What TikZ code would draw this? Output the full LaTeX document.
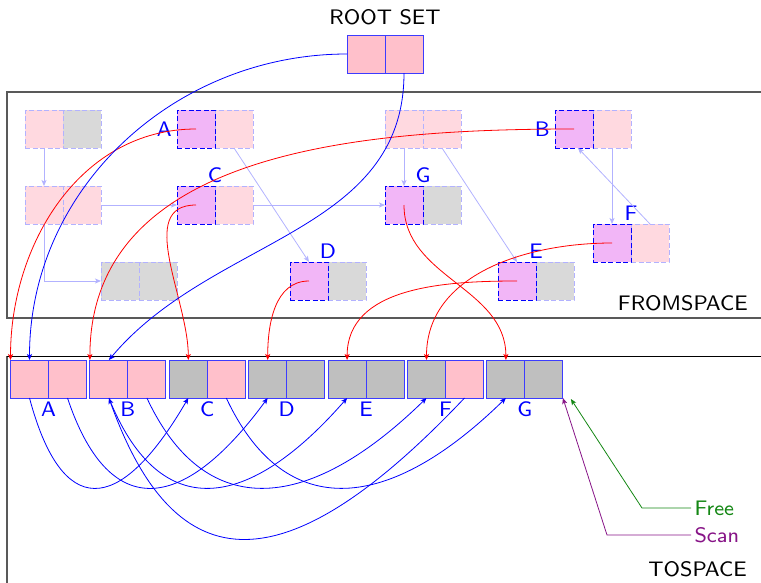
\documentclass[tikz,border=0pt]{standalone}
\usepackage{fontspec}
\newfontfamily\lblfont{lmsans8-regular.otf}
\usetikzlibrary{arrows.meta}
\definecolor{fwdcol}{RGB}{242,182,247}
\definecolor{pinkcol}{RGB}{255,192,203}
\definecolor{freecol}{RGB}{20,135,20}
\definecolor{scancol}{RGB}{135,20,135}
\definecolor{cellline}{RGB}{60,60,255}
\begin{document}
\begin{tikzpicture}[x=1pt,y=-1pt,
  every node/.style={font=\lblfont\fontsize{21}{25}\selectfont},
  cell/.style={minimum size=38pt, inner sep=0pt, outer sep=0pt, line width=0.9pt},
  tpink/.style={cell, draw=cellline, fill=pinkcol},
  tgray/.style={cell, draw=cellline, fill=lightgray},
  fwd/.style={cell, draw=blue, dash pattern=on 5pt off 2.5pt, fill=fwdcol},
  fpink/.style={cell, draw=blue!30, dash pattern=on 5pt off 2.5pt, fill=pinkcol!60},
  fgray/.style={cell, draw=blue!30, dash pattern=on 5pt off 2.5pt, fill=lightgray!60},
  lbl/.style={text=blue},
  tip/.style={-{Stealth[length=6pt,width=5pt,inset=1.5pt]}},
  oldptr/.style={tip, draw=blue!30, line width=0.8pt},
  fptr/.style={tip, draw=red, line width=0.8pt},
  ptr/.style={tip, draw=blue, line width=0.8pt},
  frame/.style={draw=black!65, line width=1.4pt}
]
\useasboundingbox (0,0) rectangle (761,582);

% spaces
\draw[frame] (765,92) -- (7,92) -- (7,318) -- (765,318);
\draw[frame] (7,356) -- (7,585);
\draw[black, line width=0.8pt] (7,356) -- (765,356);
\node[anchor=east, inner sep=0pt] (fromlbl) at (748,303) {FROMSPACE};
\node[anchor=east, inner sep=0pt] (tolbl) at (747,569) {TOSPACE};

% root set
\node[tpink] (r1) at (366,54) {};
\node[tpink] (r2) at (404,54) {};
\node[inner sep=0pt] (rootlbl) at (385,17) {ROOT SET};

% fromspace cells
\node[fpink] (p1a) at (44,129) {};
\node[fgray] (p1b) at (82,129) {};
\node[fpink] (fA2) at (234,129) {};
\node[fwd]   (fA1) at (196,129) {};
\node[fpink] (p3a) at (404,129) {};
\node[fpink] (p3b) at (442,129) {};
\node[fpink] (fB2) at (612,129) {};
\node[fwd]   (fB1) at (574,129) {};
\node[fpink] (p5a) at (44,205) {};
\node[fpink] (p5b) at (82,205) {};
\node[fpink] (fC2) at (234,205) {};
\node[fwd]   (fC1) at (196,205) {};
\node[fgray] (fG2) at (442,205) {};
\node[fwd]   (fG1) at (404,205) {};
\node[fpink] (fF2) at (650,243) {};
\node[fwd]   (fF1) at (612,243) {};
\node[fgray] (p9a) at (120,281) {};
\node[fgray] (p9b) at (158,281) {};
\node[fgray] (fD2) at (347,281) {};
\node[fwd]   (fD1) at (309,281) {};
\node[fgray] (fE2) at (555,281) {};
\node[fwd]   (fE1) at (517,281) {};

\node[lbl, anchor=east, inner sep=5pt] (lfA) at (fA1.west) {A};
\node[lbl, anchor=east, inner sep=5pt] (lfB) at (fB1.west) {B};
\node[lbl, above] (lfC) at (fC1.north east) {C};
\node[lbl, above] (lfD) at (fD1.north east) {D};
\node[lbl, above] (lfE) at (fE1.north east) {E};
\node[lbl, above] (lfF) at (fF1.north east) {F};
\node[lbl, above] (lfG) at (fG1.north east) {G};

% old pointers
\draw[oldptr] (p1a.south) -- (p5a.north);
\draw[oldptr] (p5b.east) -- (fC1.west);
\draw[oldptr] (p5a.south) |- (p9a.west);
\draw[oldptr] (fC2.east) -- (fG1.west);
\draw[oldptr] (fA2.south) -- (fD1.north);
\draw[oldptr] (p3a.south) -- (fG1.north);
\draw[oldptr] (p3b.south) -- (fE1.north);
\draw[oldptr] (fB2.south) -- (fF1.north);
\draw[oldptr] (fF2.north) -- ([xshift=4pt]fB1.south);

% tospace cells
\node[tpink] (tA1) at (29.5,379) {};
\node[tpink] (tA2) at (67.5,379) {};
\node[tpink] (tB1) at (108.9,379) {};
\node[tpink] (tB2) at (146.9,379) {};
\node[tgray] (tC1) at (188.3,379) {};
\node[tpink] (tC2) at (226.3,379) {};
\node[tgray] (tD1) at (267.7,379) {};
\node[tgray] (tD2) at (305.7,379) {};
\node[tgray] (tE1) at (347.1,379) {};
\node[tgray] (tE2) at (385.1,379) {};
\node[tgray] (tF1) at (426.5,379) {};
\node[tpink] (tF2) at (464.5,379) {};
\node[tgray] (tG1) at (505.9,379) {};
\node[tgray] (tG2) at (543.9,379) {};

\node[lbl, below] (ltA) at (tA1.south east) {A};
\node[lbl, below] (ltB) at (tB1.south east) {B};
\node[lbl, below] (ltC) at (tC1.south east) {C};
\node[lbl, below] (ltD) at (tD1.south east) {D};
\node[lbl, below] (ltE) at (tE1.south east) {E};
\node[lbl, below] (ltF) at (tF1.south east) {F};
\node[lbl, below] (ltG) at (tG1.south east) {G};

% free / scan
\node[anchor=west, text=freecol] (free) at (691,508) {Free};
\node[anchor=west, text=scancol] (scan) at (691,535) {Scan};
\coordinate (freept) at ([xshift=8pt,yshift=-1pt]tG2.south east);
\coordinate (freebend) at (642,508);
\coordinate (scanbend) at (607,535);
\draw[tip, draw=freecol, line width=0.8pt] (free.west) -- (freebend) -- (freept);
\draw[tip, draw=scancol, line width=0.8pt] (scan.west) -- (scanbend) -- (tG2.south east);

% forwarding pointers
\draw[fptr] (fA1.center) to[out=180,in=90] (tA1.north west);
\draw[fptr] (fB1.center) to[out=180,in=90] (tB1.north west);
\draw[fptr] (fC1.center) to[out=180,in=90] (tC1.north);
\draw[fptr] (fD1.center) to[out=180,in=90] (tD1.north);
\draw[fptr] (fE1.center) to[out=180,in=90] (tE1.north);
\draw[fptr] (fF1.center) to[out=180,in=90] (tF1.north);
\draw[fptr] (fG1.center) to[out=-90,in=90] (tG1.north);

% root pointers
\draw[ptr] (r1.west) to[out=180,in=90] (tA1.north);
\draw[ptr] (r2.south) to[out=-90,in=50] (tB1.north);

% tospace pointers
\draw[ptr] (tA1.south) .. controls +(32,120) and +(-70,120) .. (tC1.south);
\draw[ptr] (tA2.south) .. controls +(40,120) and +(-88,120) .. (tD1.south);
\draw[ptr] (tB1.south) .. controls +(48,120) and +(-105,120) .. (tE1.south);
\draw[ptr] (tB2.south) .. controls +(56,120) and +(-123,120) .. (tF1.south);
\draw[ptr] (tC2.south) .. controls +(56,120) and +(-123,120) .. (tG1.south);
\draw[ptr] (tF2.south) .. controls +(-178,188) and +(67,188) .. (tB1.south);
\end{tikzpicture}
\end{document}
